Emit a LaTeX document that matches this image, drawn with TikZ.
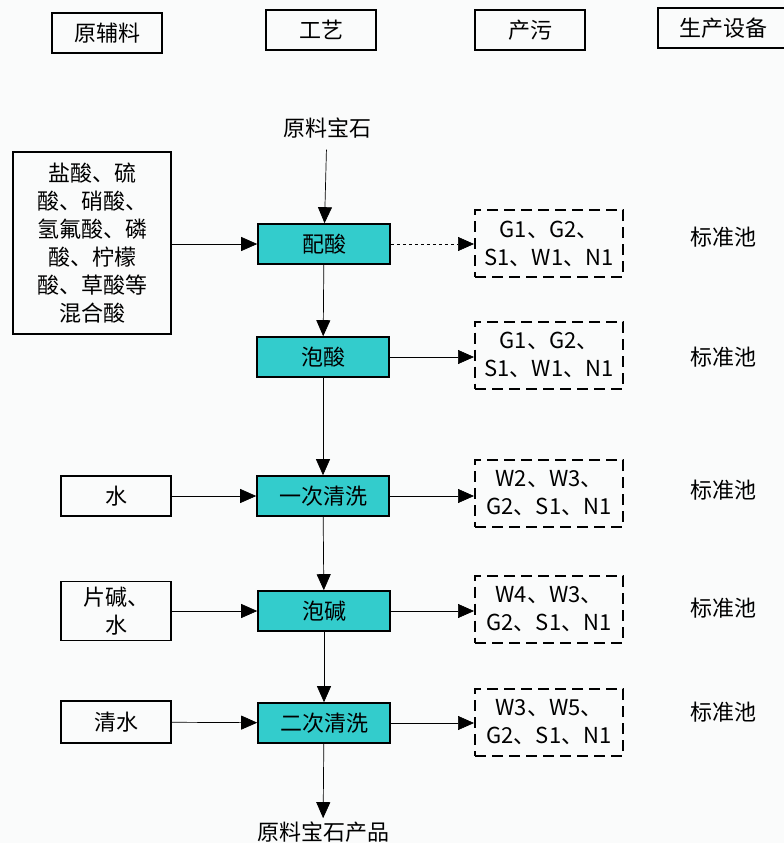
\documentclass[tikz,border=0pt]{standalone}
\usepackage{fontspec}
\setmainfont{Noto Sans CJK SC}
\usetikzlibrary{arrows.meta}

\definecolor{procfill}{RGB}{51,204,204}
\definecolor{pagebg}{RGB}{250,251,251}

\begin{document}
\begin{tikzpicture}[x=1pt, y=-1pt,
    every node/.style={font=\fontsize{22}{28}\selectfont},
    head/.style={draw=black, line width=1.8pt, minimum width=110pt,
        minimum height=40pt, inner sep=0pt},
    proc/.style={draw=black, line width=1.6pt, fill=procfill,
        minimum width=132pt, minimum height=40pt, inner sep=0pt},
    feed/.style={draw=black, line width=1.6pt, minimum width=110pt,
        minimum height=40pt, align=center, inner sep=0pt},
    waste/.style={draw=black, line width=2pt, dash pattern=on 11pt off 6pt,
        minimum width=148pt, minimum height=67pt, align=center, inner sep=0pt},
    flow/.style={line width=0.7pt, -{Triangle[width=14pt,length=16pt]}}
]
    \fill[pagebg] (0,0) rectangle (784,843);
    \useasboundingbox (0,0) rectangle (784,843);

    % headers
    \node[head] (h1) at (107,33) {原辅料};
    \node[head] (h2) at (321,30) {工艺};
    \node[head] (h3) at (530,30) {产污};
    \node[head, minimum width=130pt] (h4) at (723,28) {生产设备};

    % process chain
    \node (raw) at (327,128) {原料宝石};
    \node[proc] (p1) at (324,244) {配酸};
    \node[proc] (p2) at (323,357) {泡酸};
    \node[proc] (p3) at (323,496) {一次清洗};
    \node[proc] (p4) at (324,611) {泡碱};
    \node[proc] (p5) at (324,723) {二次清洗};
    \node (prod) at (323,832) {原料宝石产品};

    % raw materials
    \node[feed, minimum width=158pt, minimum height=182pt] (f1) at (92,243)
        {盐酸、硫\\酸、硝酸、\\氢氟酸、磷\\酸、柠檬\\酸、草酸等\\混合酸};
    \node[feed] (f3) at (116,496) {水};
    \node[feed, minimum height=59pt] (f4) at (116,611) {片碱、\\水};
    \node[feed, minimum height=42pt] (f5) at (116,722) {清水};

    % pollutants
    \node[waste] (w1) at (549,243.5) {G1、G2、\\S1、W1、N1};
    \node[waste] (w2) at (549,355) {G1、G2、\\S1、W1、N1};
    \node[waste] (w3) at (549,493.5) {W2、W3、\\G2、S1、N1};
    \node[waste] (w4) at (549,609) {W4、W3、\\G2、S1、N1};
    \node[waste] (w5) at (549,722.5) {W3、W5、\\G2、S1、N1};

    % equipment
    \node (e1) at (723,237) {标准池};
    \node (e2) at (723,357) {标准池};
    \node (e3) at (723,490) {标准池};
    \node (e4) at (723,608) {标准池};
    \node (e5) at (723,712) {标准池};

    \draw[flow, shorten <=8pt] (raw) -- (p1);
    \draw[flow] (p1) -- (p2);
    \draw[flow] (p2) -- (p3);
    \draw[flow] (p3) -- (p4);
    \draw[flow] (p4) -- (p5);
    \draw[flow] (p5) -- (prod);

    \draw[flow] (f1.east |- p1) -- (p1);
    \draw[flow] (f3) -- (p3);
    \draw[flow] (f4) -- (p4);
    \draw[flow] (f5) -- (p5);

    \draw[flow, dashed] (p1) -- (p1 -| w1.west);
    \draw[flow] (p2) -- (p2 -| w2.west);
    \draw[flow] (p3) -- (p3 -| w3.west);
    \draw[flow] (p4) -- (p4 -| w4.west);
    \draw[flow] (p5) -- (p5 -| w5.west);
\end{tikzpicture}
\end{document}
